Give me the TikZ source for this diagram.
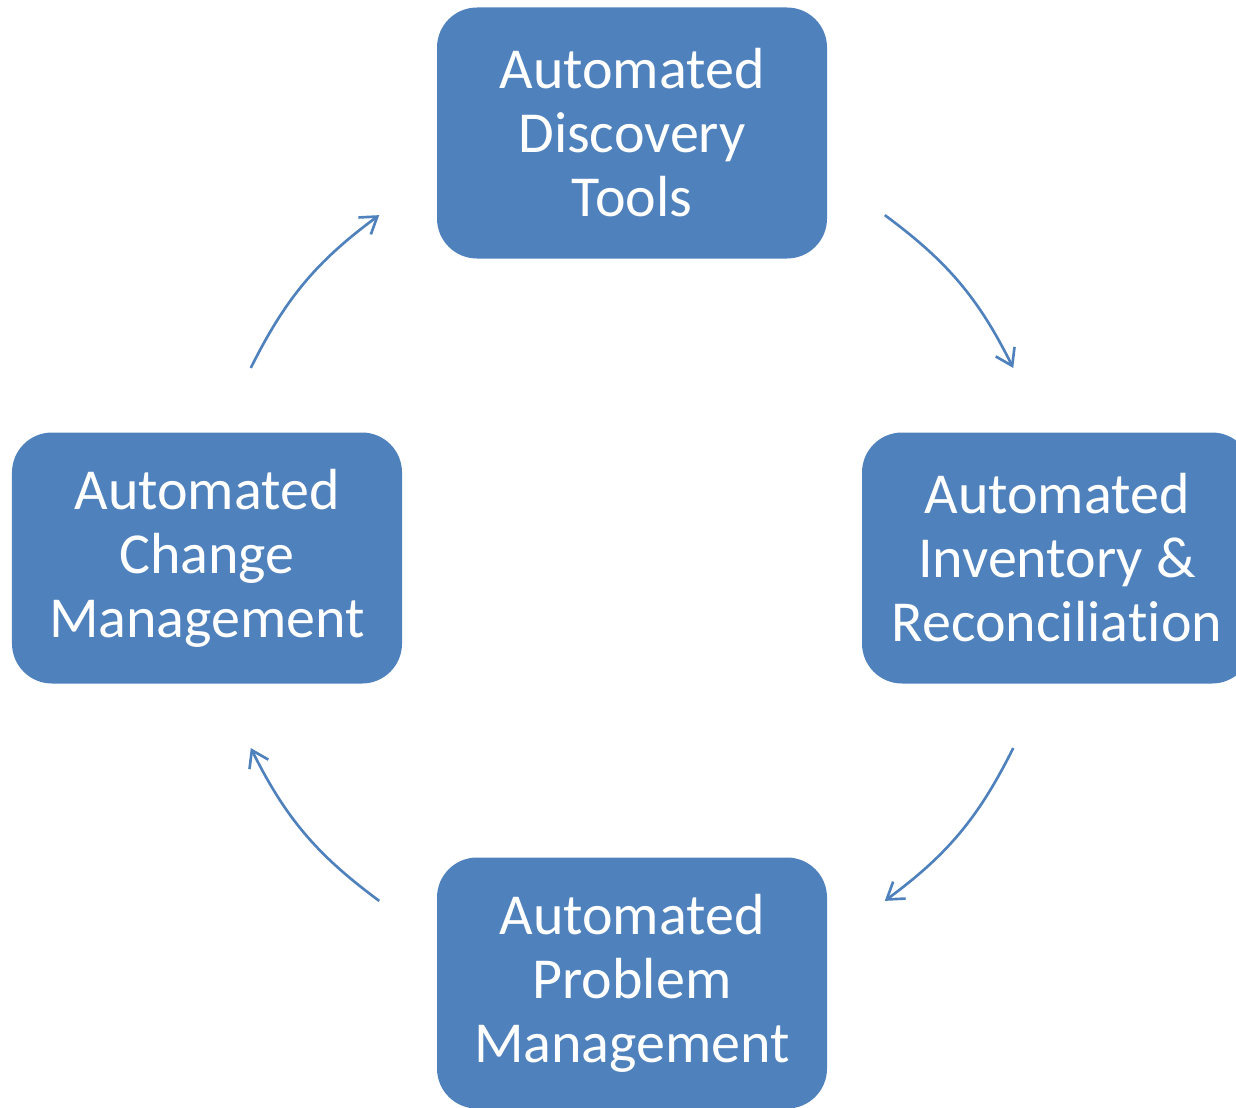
\documentclass[tikz,border=0pt]{standalone}
\usepackage{fontspec}
\setmainfont{Carlito}[Ligatures={NoCommon,NoContextual}]
\usetikzlibrary{arrows.meta,calc}
\definecolor{stageblue}{HTML}{4F81BD}
\tikzstyle{line} = [draw, color=stageblue, line width=1.5pt,
  -{Straight Barb[length=9pt,width=12pt,line width=1.5pt]}]
\tikzstyle{stage} = [rectangle, fill=stageblue, text=white,
  minimum width=7.8cm, minimum height=5.02cm, rounded corners=0.8cm,
  align=center, font=\fontsize{33pt}{36.4pt}\selectfont]

\begin{document}
\begin{tikzpicture}[node distance=8.5cm]
  \useasboundingbox (0,0) rectangle (24.72,-22.14);
  \coordinate (ctr) at (12.64,-11.16);

  \node [stage, above of=ctr] (discovery) {Automated\\Discovery\\Tools};
  \node [stage, right of=ctr] (inventory) {Automated\\Inventory \&\\Reconcilia\kern0pt tion};
  \node [stage, below of=ctr] (problem) {Automated\\Problem\\Management};
  \node [stage, left of=ctr] (change) {Automated\\Change\\Management};

  % arrow ends on a circle round the centre
  \coordinate (discovery-out) at ($(ctr)+(53.6:8.52)$);
  \coordinate (inventory-in) at ($(ctr)+(26.5:8.52)$);
  \coordinate (inventory-out) at ($(ctr)+(-26.5:8.52)$);
  \coordinate (problem-in) at ($(ctr)+(-53.6:8.52)$);
  \coordinate (problem-out) at ($(ctr)+(-126.4:8.52)$);
  \coordinate (change-in) at ($(ctr)+(-153.5:8.52)$);
  \coordinate (change-out) at ($(ctr)+(153.5:8.52)$);
  \coordinate (discovery-in) at ($(ctr)+(126.4:8.52)$);

  \path [line] (discovery-out) to[bend left=13.5] (inventory-in);
  \path [line] (inventory-out) to[bend left=13.5] (problem-in);
  \path [line] (problem-out) to[bend left=13.5] (change-in);
  \path [line] (change-out) to[bend left=13.5] (discovery-in);

\end{tikzpicture}
\end{document}
